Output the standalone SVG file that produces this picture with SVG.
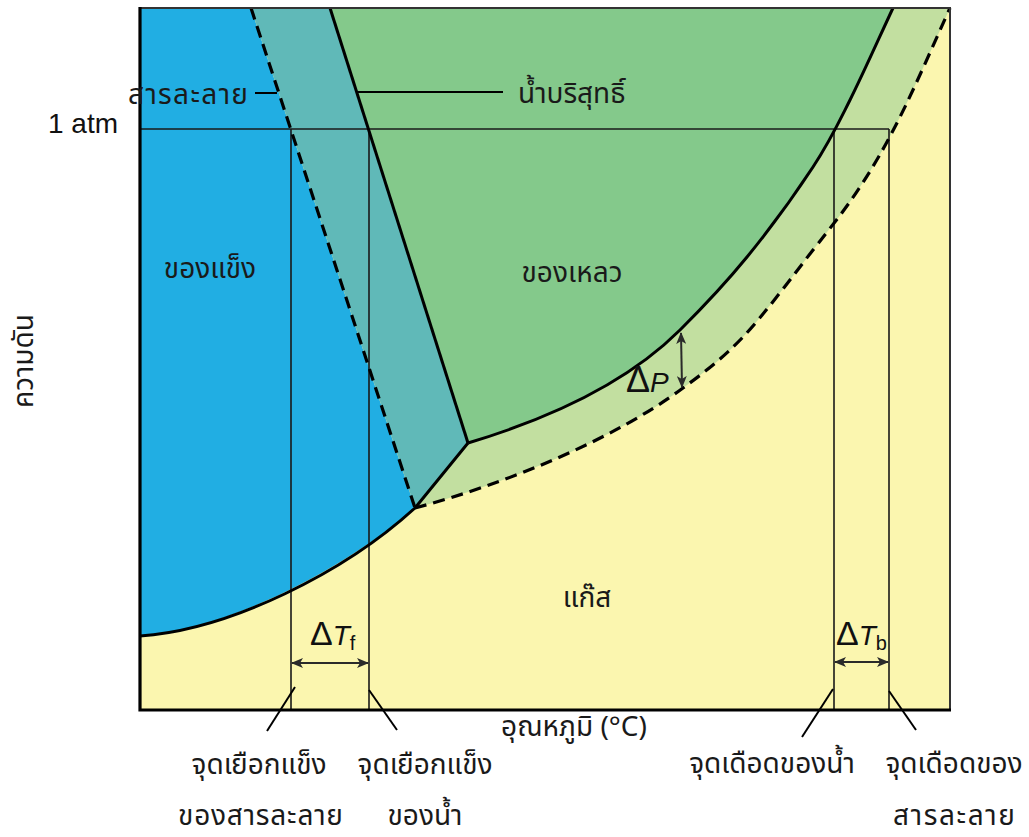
<svg xmlns="http://www.w3.org/2000/svg" width="1029" height="837" viewBox="0 0 1029 837">
  <defs>
    <style>
      .t { font-family: "Noto Sans Thai", "Noto Sans", "Liberation Sans", sans-serif; font-size: 28px; fill: #1a1a1a; }
      .m { font-family: "Liberation Sans", "Noto Sans", sans-serif; fill: #111; }
      .bd { fill: none; stroke: #000; stroke-width: 3; stroke-linejoin: round; }
      .ds { fill: none; stroke: #000; stroke-width: 3.2; stroke-dasharray: 12 7; }
      .thin { fill: none; stroke: #1a1a1a; stroke-width: 1.6; }
      .ld { fill: none; stroke: #000; stroke-width: 2; }
      .ar { fill: none; stroke: #2a2a2a; stroke-width: 2; marker-start: url(#ah); marker-end: url(#ah); }
    </style>
    <marker id="ah" viewBox="0 0 12 10" refX="11" refY="5" markerWidth="12" markerHeight="10" markerUnits="userSpaceOnUse" orient="auto-start-reverse">
      <path d="M0,0 L12,5 L0,10 L3,5 z" fill="#2a2a2a"/>
    </marker>
  </defs>

  <rect x="0" y="0" width="1029" height="837" fill="#ffffff"/>

  <g id="regions">
    <rect id="gas" x="140" y="8" width="810" height="702" fill="#FBF6AF"/>
    <path id="solid" fill="#21AEE3" d="M140,8 L251,8 L415,508 C350,565 230,630 140,636 Z"/>
    <path id="overlap-solid" fill="#60B9B8" d="M251,8 L330,8 L468,443 L415,508 Z"/>
    <path id="liquid" fill="#84C98B" d="M330,8 L893,8 C879,38 863.3,73.5 850,100 C836.7,126.5 830.2,140.8 813,167 C795.8,193.2 769.2,229.8 747,257 C724.8,284.2 697.8,312.3 680,330 C625,385 543,420.5 468,443 Z"/>
    <path id="solution-liquid" fill="#C2DFA0" d="M893,8 L950,8 C938,34.4 915,87.2 900,117 C885,146.8 874.5,164.8 860,187 C845.5,209.2 832.5,225 813,250 C793.5,275 764.7,314 743,337 C721.3,360 700.2,375.3 683,388 C613,440 505,484 415,508 L468,443 C543,420.5 625,385 680,330 C697.8,312.3 724.8,284.2 747,257 C769.2,229.8 795.8,193.2 813,167 C830.2,140.8 836.7,126.5 850,100 C863.3,73.5 879,38 893,8 Z"/>
  </g>

  <g id="connectors">
    <path class="thin" d="M140,129 H889"/>
    <path class="thin" d="M291,129 V710 M369,129 V710 M834,129 V710 M889,129 V710"/>
    <path class="bd" d="M330,8 L468,443"/>
    <path class="bd" d="M140,636 C230,630 345,572 415,508 L468,443"/>
    <path class="bd" d="M468,443 C543,420.5 625,385 680,330 C697.8,312.3 724.8,284.2 747,257 C769.2,229.8 795.8,193.2 813,167 C830.2,140.8 836.7,126.5 850,100 C863.3,73.5 879,38 893,8"/>
    <path class="ds" d="M251,8 L415,508"/>
    <path class="ds" d="M415,508 C505,484 613,440 683,388 C700.2,375.3 721.3,360 743,337 C764.7,314 793.5,275 813,250 C832.5,225 845.5,209.2 860,187 C874.5,164.8 885,146.8 900,117 C915,87.2 938,34.4 950,8"/>
    <path fill="none" stroke="#333" stroke-width="2" d="M140,8 H950 V710"/>
    <path fill="none" stroke="#000" stroke-width="3.2" d="M140,7 V710 H951"/>
    <path class="ar" d="M292,663 H368"/>
    <path class="ar" d="M835,662 H888"/>
    <path class="ar" d="M681,333 L682,387"/>
    <path class="ld" d="M255,93 H277"/>
    <path class="ld" d="M357,92 H503"/>
    <path class="ld" d="M295,687 L267,731"/>
    <path class="ld" d="M369,690 L397,730"/>
    <path class="ld" d="M833,689 L802,737"/>
    <path class="ld" d="M889,691 L916,730"/>
  </g>

  <g id="labels">
    <text class="t" x="128" y="104" textLength="120" lengthAdjust="spacing">สารละลาย</text>
    <text class="t" x="518" y="103">น้ำบริสุทธิ์</text>
    <text class="m" x="48" y="133" font-size="28">1 atm</text>
    <text class="t" x="210" y="278" text-anchor="middle">ของแข็ง</text>
    <text class="t" x="572" y="282" text-anchor="middle">ของเหลว</text>
    <text class="t" x="587" y="607" text-anchor="middle">แก๊ส</text>
    <text class="t" x="574" y="736" text-anchor="middle">อุณหภูมิ (°C)</text>
    <text class="t" transform="translate(33,361) rotate(-90)" text-anchor="middle">ความดัน</text>
    <text class="t" x="259" y="774" text-anchor="middle">จุดเยือกแข็ง</text>
    <text class="t" x="178" y="825" textLength="165" lengthAdjust="spacing">ของสารละลาย</text>
    <text class="t" x="425" y="774" text-anchor="middle">จุดเยือกแข็ง</text>
    <text class="t" x="425" y="825" text-anchor="middle">ของน้ำ</text>
    <text class="t" x="772" y="773" text-anchor="middle">จุดเดือดของน้ำ</text>
    <text class="t" x="954" y="773" text-anchor="middle">จุดเดือดของ</text>
    <text class="t" x="893" y="825" textLength="122" lengthAdjust="spacing">สารละลาย</text>
  </g>

  <g id="delta-labels">
    <text class="m" x="626" y="392"><tspan font-size="36">Δ</tspan><tspan font-size="28" font-style="italic">P</tspan></text>
    <text class="m" x="310" y="645"><tspan font-size="34">Δ</tspan><tspan font-size="28" font-style="italic">T</tspan><tspan font-size="20" dy="5">f</tspan></text>
    <text class="m" x="836" y="645"><tspan font-size="34">Δ</tspan><tspan font-size="28" font-style="italic">T</tspan><tspan font-size="20" dy="5">b</tspan></text>
  </g>
</svg>
